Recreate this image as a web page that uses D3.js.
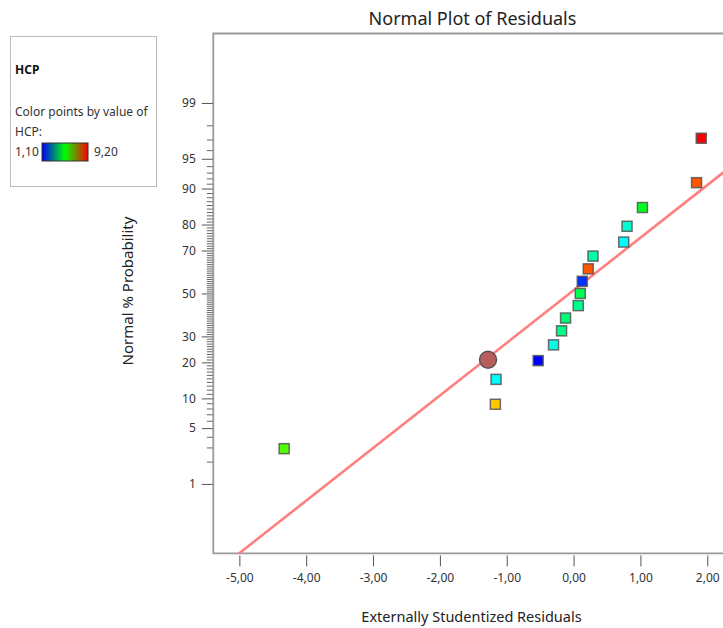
<!DOCTYPE html>
<html>
<head>
<meta charset="utf-8">
<script src="https://cdn.jsdelivr.net/npm/d3@7"></script>
<style>
    body { margin: 0; background: #fff; }
    svg { display: block; font-family: "Noto Sans", "Open Sans", sans-serif; }
</style>
</head>
<body>
<div id="chart"></div>
<script>
// Residuals (x) and their normal % probability (y)
const residuals = [-4.33, -1.17, -1.16, -0.53, -0.30, -0.18, -0.12, 0.07, 0.10, 0.13, 0.22, 0.29, 0.75, 0.80, 1.03, 1.84, 1.91];
const probabilities = [2.9, 8.8, 14.7, 20.6, 26.5, 32.4, 38.2, 44.1, 50.0, 55.9, 61.8, 67.6, 73.5, 79.4, 85.3, 91.2, 97.1];
const hcpValues = [5.8, 7.6, 3.1, 1.1, 3.3, 4.1, 4.2, 4.0, 4.5, 1.5, 8.5, 3.8, 3.1, 3.5, 4.9, 8.5, 9.2];

// highlighted (selected) point
const selectedPoint = { x: -1.28, p: 20.9 };

// reference line (mean, sd of the fitted normal)
const lineMean = -0.06;
const lineSd = 1.557;

const xTicks = [-5, -4, -3, -2, -1, 0, 1, 2];
const yMajorTicks = [1, 5, 10, 20, 30, 50, 70, 80, 90, 95, 99];
const yMinorTicks = d3.range(1, 100).filter(p => !yMajorTicks.includes(p));

const hcpRange = [1.10, 9.20];

const width = 723;
const height = 628;
const plot = { left: 213.3, top: 33.5, right: 732, bottom: 553.4 };

// inverse normal cdf (Acklam)
function probit(p) {
    const a = [-3.969683028665376e+01, 2.209460984245205e+02, -2.759285104469687e+02, 1.383577518672690e+02, -3.066479806614716e+01, 2.506628277459239e+00];
    const b = [-5.447609879822406e+01, 1.615858368580409e+02, -1.556989798598866e+02, 6.680131188771972e+01, -1.328068155288572e+01];
    const c = [-7.784894002430293e-03, -3.223964580411365e-01, -2.400758277161838e+00, -2.549732539343734e+00, 4.374664141464968e+00, 2.938163982698783e+00];
    const d = [7.784695709041462e-03, 3.224671290700398e-01, 2.445134137142996e+00, 3.754408661907416e+00];
    const pl = 0.02425;
    let q, r;
    if (p < pl) {
        q = Math.sqrt(-2 * Math.log(p));
        return (((((c[0]*q+c[1])*q+c[2])*q+c[3])*q+c[4])*q+c[5]) / ((((d[0]*q+d[1])*q+d[2])*q+d[3])*q+1);
    } else if (p <= 1 - pl) {
        q = p - 0.5; r = q * q;
        return (((((a[0]*r+a[1])*r+a[2])*r+a[3])*r+a[4])*r+a[5])*q / (((((b[0]*r+b[1])*r+b[2])*r+b[3])*r+b[4])*r+1);
    } else {
        q = Math.sqrt(-2 * Math.log(1 - p));
        return -(((((c[0]*q+c[1])*q+c[2])*q+c[3])*q+c[4])*q+c[5]) / ((((d[0]*q+d[1])*q+d[2])*q+d[3])*q+1);
    }
}

const x = d3.scaleLinear()
    .domain([-5.39, 2.37])
    .range([plot.left, plot.right]);

const z = d3.scaleLinear()
    .domain([-3.175, 3.175])
    .range([plot.bottom, plot.top]);

const yProb = p => z(probit(p / 100));

// rainbow hue from blue (low) to red (high)
const hue = d3.scaleLinear().domain(hcpRange).range([240, 0]);
const pointColor = v => d3.hsl(hue(v), 1, 0.5).formatHex();

const svg = d3.select("#chart")
    .append("svg")
    .attr("width", width)
    .attr("height", height);

// Title
svg.append("text")
    .attr("x", 472.5)
    .attr("y", 24.5)
    .attr("text-anchor", "middle")
    .attr("font-size", 18)
    .attr("fill", "#222")
    .text("Normal Plot of Residuals");

// Clip for plot content
svg.append("clipPath")
    .attr("id", "plot-clip")
    .append("rect")
    .attr("x", plot.left)
    .attr("y", plot.top)
    .attr("width", plot.right - plot.left)
    .attr("height", plot.bottom - plot.top);

// Frame (left, top, bottom)
svg.append("path")
    .attr("d", `M${plot.right},${plot.top}H${plot.left}V${plot.bottom}H${plot.right}`)
    .attr("fill", "none")
    .attr("stroke", "#9a9a9a")
    .attr("stroke-width", 1.8);

// Y minor ticks
const yMinorAxis = svg.append("g")
    .attr("transform", `translate(${plot.left - 0.5},0)`)
    .call(d3.axisLeft(z)
        .tickValues(yMinorTicks.map(p => probit(p / 100)))
        .tickSize(6)
        .tickFormat(""));
yMinorAxis.select(".domain").remove();
yMinorAxis.selectAll("line").attr("stroke", "#666");

// Y major ticks
const yAxis = svg.append("g")
    .attr("transform", `translate(${plot.left - 0.5},0)`)
    .call(d3.axisLeft(z)
        .tickValues(yMajorTicks.map(p => probit(p / 100)))
        .tickSize(11)
        .tickPadding(6)
        .tickFormat((d, i) => yMajorTicks[i]));
yAxis.select(".domain").remove();
yAxis.selectAll("line").attr("stroke", "#555");
yAxis.selectAll("text")
    .attr("font-size", 12)
    .attr("font-family", "Noto Sans, sans-serif")
    .attr("fill", "#333");

// X axis
const xAxis = svg.append("g")
    .attr("transform", `translate(0,${plot.bottom + 2})`)
    .call(d3.axisBottom(x)
        .tickValues(xTicks)
        .tickSize(11)
        .tickPadding(7)
        .tickFormat(d => d.toFixed(2).replace(".", ",")));
xAxis.select(".domain").remove();
xAxis.selectAll("line").attr("stroke", "#555");
xAxis.selectAll("text")
    .attr("font-size", 12)
    .attr("font-family", "Noto Sans, sans-serif")
    .attr("fill", "#333");

// Axis titles
svg.append("text")
    .attr("x", 471.5)
    .attr("y", 622)
    .attr("text-anchor", "middle")
    .attr("font-size", 14.5)
    .attr("fill", "#222")
    .text("Externally Studentized Residuals");

svg.append("text")
    .attr("transform", "translate(133,291) rotate(-90)")
    .attr("text-anchor", "middle")
    .attr("font-size", 15)
    .attr("fill", "#222")
    .text("Normal % Probability");

// Reference line
const content = svg.append("g").attr("clip-path", "url(#plot-clip)");

content.append("line")
    .attr("x1", x(x.domain()[0]))
    .attr("y1", z((x.domain()[0] - lineMean) / lineSd))
    .attr("x2", x(x.domain()[1]))
    .attr("y2", z((x.domain()[1] - lineMean) / lineSd))
    .attr("stroke", "#ff7f7f")
    .attr("stroke-width", 2.6);

// Points
const points = residuals.map((r, i) => ({ x: r, p: probabilities[i], hcp: hcpValues[i] }));

content.append("g")
    .selectAll("rect")
    .data(points)
    .join("rect")
    .attr("x", d => x(d.x) - 5)
    .attr("y", d => yProb(d.p) - 5)
    .attr("width", 10)
    .attr("height", 10)
    .attr("fill", d => pointColor(d.hcp))
    .attr("stroke", "#555")
    .attr("stroke-opacity", 0.85)
    .attr("stroke-width", 1.5);

// Selected point
content.append("circle")
    .attr("cx", x(selectedPoint.x))
    .attr("cy", yProb(selectedPoint.p))
    .attr("r", 8.5)
    .attr("fill", "#b85c5c")
    .attr("stroke", "#555")
    .attr("stroke-width", 1.5);

// Legend box
const legend = svg.append("g");

legend.append("rect")
    .attr("x", 10.5)
    .attr("y", 36.5)
    .attr("width", 146)
    .attr("height", 150)
    .attr("fill", "#fff")
    .attr("stroke", "#bbb")
    .attr("stroke-width", 1);

legend.append("text")
    .attr("x", 15)
    .attr("y", 74)
    .attr("font-size", 12)
    .attr("font-weight", "bold")
    .attr("fill", "#111")
    .text("HCP");

legend.append("text")
    .attr("x", 15)
    .attr("y", 116)
    .attr("font-size", 12)
    .attr("fill", "#333")
    .text("Color points by value of");

legend.append("text")
    .attr("x", 15)
    .attr("y", 136)
    .attr("font-size", 12)
    .attr("fill", "#333")
    .text("HCP:");

const grad = svg.append("defs")
    .append("linearGradient")
    .attr("id", "hcp-grad")
    .attr("x1", "0%").attr("x2", "100%")
    .attr("y1", "0%").attr("y2", "0%");

grad.selectAll("stop")
    .data(["#0000ff", "#00ff00", "#ff0000"])
    .join("stop")
    .attr("offset", (d, i) => `${i * 50}%`)
    .attr("stop-color", d => d);

legend.append("text")
    .attr("x", 15)
    .attr("y", 156)
    .attr("font-size", 12)
    .attr("fill", "#333")
    .text(hcpRange[0].toFixed(2).replace(".", ","));

legend.append("rect")
    .attr("x", 42)
    .attr("y", 143)
    .attr("width", 46)
    .attr("height", 18)
    .attr("fill", "url(#hcp-grad)")
    .attr("stroke", "#333")
    .attr("stroke-width", 1);

legend.append("text")
    .attr("x", 94)
    .attr("y", 156)
    .attr("font-size", 12)
    .attr("fill", "#333")
    .text(hcpRange[1].toFixed(2).replace(".", ","));
</script>
</body>
</html>
